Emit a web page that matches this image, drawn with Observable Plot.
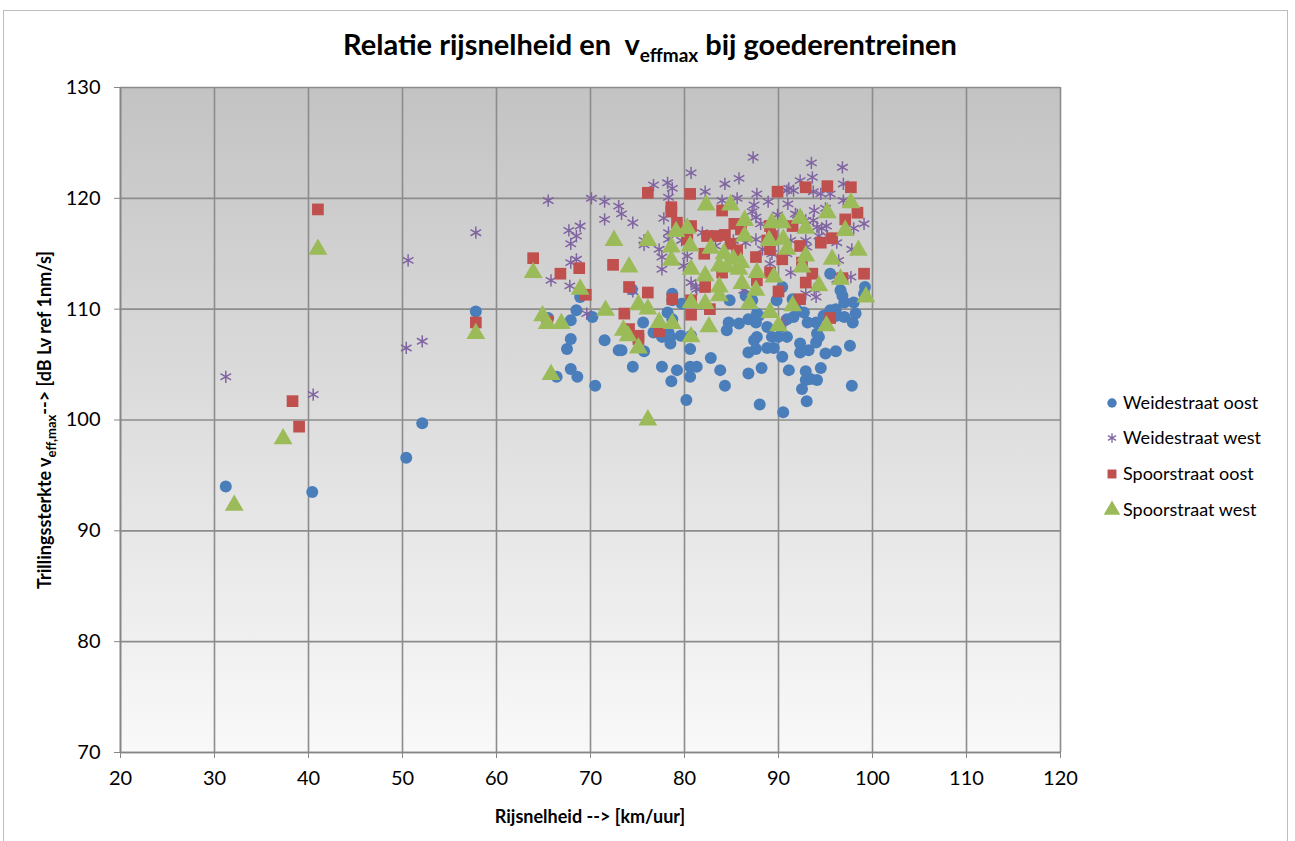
<!DOCTYPE html>
<html>
<head>
<meta charset="utf-8">
<script src="https://cdn.jsdelivr.net/npm/d3@7"></script>
<script src="https://cdn.jsdelivr.net/npm/@observablehq/plot@0.6"></script>
<style>
  html, body { margin: 0; padding: 0; background: #fff; }
  #chart { position: relative; width: 1295px; height: 841px; }
</style>
</head>
<body>
<div id="chart"></div>
<script>
const seriesNames = ["Weidestraat oost", "Weidestraat west", "Spoorstraat oost", "Spoorstraat west"];
const seriesColors = ["#4a7ebb", "#8064a2", "#c0504d", "#9bbb59"];
const xTicks = [20, 30, 40, 50, 60, 70, 80, 90, 100, 110, 120];
const yTicks = [70, 80, 90, 100, 110, 120, 130];

const weideOost = [
[31.2,94.0],[40.4,93.5],[50.4,96.6],[52.1,99.7],[57.8,109.8],[65.5,109.2],[66.4,103.9],[67.5,106.4],[67.9,107.3],[67.9,109.0],
[67.9,104.6],[68.6,103.9],[68.9,111.1],[68.5,109.9],[70.2,109.3],[70.5,103.1],[71.5,107.2],[73.0,106.3],[73.3,106.3],[74.5,104.8],
[74.4,111.8],[75.6,108.8],[75.7,106.2],[76.7,107.9],[77.6,107.5],[77.6,104.8],[78.2,109.7],[78.3,107.9],[78.7,111.4],[78.7,110.8],
[78.7,109.1],[78.5,107.5],[78.5,106.9],[79.2,104.5],[78.6,103.5],[79.6,107.6],[79.7,110.5],[80.2,101.8],[80.6,106.4],[80.6,104.8],
[80.6,103.9],[80.7,107.6],[81.3,104.8],[82.8,105.6],[83.8,104.5],[84.3,103.1],[84.5,108.1],[84.7,108.8],[84.8,110.8],[85.8,108.7],
[86.5,111.2],[86.8,109.1],[86.8,106.1],[86.8,104.2],[87.2,110.8],[87.4,107.2],[87.6,108.8],[87.6,106.4],[87.7,107.5],[87.7,109.6],
[87.9,109.4],[88.0,101.4],[88.2,104.7],[88.8,108.4],[88.8,106.5],[89.3,107.5],[89.5,106.5],[89.8,110.8],[90.0,107.5],[90.2,108.4],
[90.4,105.7],[90.4,112.0],[90.5,100.7],[90.9,107.5],[90.9,109.1],[91.1,104.5],[91.5,110.9],[91.6,109.3],[92.0,109.9],[92.3,106.9],
[92.3,106.1],[92.5,102.8],[92.7,109.7],[92.9,104.4],[92.9,103.6],[93.0,101.7],[93.1,108.8],[93.2,106.3],[93.4,103.7],[94.0,108.8],
[94.0,107.0],[94.1,103.6],[94.1,107.8],[94.3,107.5],[94.5,104.7],[94.8,109.4],[95.0,106.0],[95.5,109.9],[95.5,113.2],[96.1,106.2],
[96.1,110.0],[96.2,109.4],[96.6,111.7],[96.8,111.2],[97.0,109.3],[97.0,110.6],[97.6,106.7],[97.8,103.1],[97.9,108.8],[98.0,110.6],
[98.2,109.6],[99.1,111.4],[99.2,112.0]
];

const weideWest = [
[31.2,103.9],[40.5,102.3],[50.4,106.5],[52.1,107.1],[50.6,114.4],[57.8,116.9],[65.5,119.8],[65.8,112.6],[67.7,117.1],[67.8,112.1],
[67.9,115.9],[67.9,114.2],[68.5,116.6],[68.5,114.5],[68.9,117.5],[69.6,109.6],[70.1,120.0],[71.5,119.7],[71.5,118.1],[73.0,119.3],
[73.3,118.6],[74.5,117.8],[74.5,111.6],[75.7,116.2],[75.7,115.8],[76.7,121.2],[77.3,115.4],[77.6,114.7],[77.6,113.6],[77.8,118.2],
[78.2,121.4],[78.3,120.1],[78.3,116.9],[78.3,116.3],[78.7,120.9],[79.7,116.2],[79.9,113.9],[80.3,114.8],[80.7,122.3],[80.7,112.4],
[81.2,112.0],[81.3,111.8],[81.9,116.9],[82.2,120.6],[83.3,115.7],[84.0,119.8],[84.3,121.3],[85.2,116.2],[85.6,120.0],[85.8,121.8],
[86.3,111.7],[86.5,116.0],[87.2,118.8],[87.3,123.7],[87.4,119.4],[87.6,118.3],[87.6,116.3],[87.7,120.4],[88.1,117.7],[88.3,115.4],
[88.9,119.7],[89.1,114.1],[89.3,115.0],[89.9,118.5],[90.4,108.8],[90.9,120.7],[90.9,115.0],[91.0,119.5],[91.1,120.9],[91.3,116.2],
[91.3,113.3],[91.6,120.7],[91.8,118.6],[92.0,118.5],[92.3,121.6],[92.9,118.0],[92.9,116.2],[92.9,111.4],[93.0,115.6],[93.5,123.2],
[93.6,121.9],[93.7,118.0],[93.7,120.6],[93.8,118.9],[93.8,111.8],[94.0,111.1],[94.1,117.4],[94.3,116.6],[94.5,120.4],[94.6,117.3],
[95.0,119.1],[95.1,117.5],[95.2,116.6],[95.5,120.4],[96.2,116.0],[96.2,112.7],[96.4,114.4],[96.8,122.8],[96.9,119.8],[96.9,121.3],
[97.7,112.9],[97.8,115.4],[98.0,117.3],[99.1,117.7]
];

const spoorOost = [
[38.3,101.7],[39.0,99.4],[41.0,119.0],[57.8,108.8],[63.9,114.6],[65.4,108.9],[66.8,113.2],[68.8,113.7],[69.5,111.3],[72.4,114.0],
[73.6,109.6],[74.1,112.0],[74.1,108.2],[75.1,107.6],[75.1,107.3],[76.1,111.5],[76.1,120.5],[77.3,108.0],[78.6,119.2],[78.6,118.8],
[78.7,110.9],[79.2,117.8],[80.3,116.3],[80.6,120.4],[80.7,117.5],[80.7,110.8],[80.7,109.5],[82.1,115.0],[82.2,112.0],[82.4,116.6],
[82.7,110.0],[83.4,116.6],[84.0,118.9],[84.0,113.3],[84.3,116.7],[84.9,115.9],[85.3,117.7],[85.6,115.3],[86.0,117.2],[87.6,114.7],
[87.7,112.6],[88.8,116.2],[89.1,117.5],[89.1,115.4],[89.1,113.3],[89.3,116.6],[89.9,120.6],[90.0,111.6],[90.4,114.5],[91.5,117.5],
[92.3,115.7],[92.3,110.9],[92.5,114.2],[92.9,121.0],[92.9,112.4],[93.6,113.2],[94.5,116.0],[95.2,121.1],[95.5,109.2],[95.7,116.4],
[96.8,112.8],[97.1,118.1],[97.7,121.0],[98.4,118.7],[99.1,113.2]
];

const spoorWest = [
[32.1,92.3],[37.3,98.3],[41.0,115.4],[57.8,107.8],[63.9,113.3],[64.9,109.4],[65.4,108.7],[65.8,104.1],[66.9,108.7],[68.9,111.8],
[71.6,109.9],[72.5,116.2],[73.5,108.1],[74.0,107.6],[74.1,113.8],[75.1,110.4],[75.1,106.5],[76.1,116.2],[76.1,110.0],[76.1,100.0],
[77.3,108.8],[78.6,115.6],[78.6,114.4],[78.7,108.7],[79.1,117.0],[80.3,117.3],[80.6,115.7],[80.7,113.6],[80.7,110.6],[80.7,107.5],
[82.2,113.0],[82.2,110.5],[82.3,119.4],[82.6,108.4],[82.8,115.5],[83.7,113.9],[83.7,112.0],[83.7,111.2],[84.2,115.0],[84.5,113.8],
[84.9,119.4],[85.2,114.5],[85.8,113.6],[86.0,114.2],[86.1,112.3],[86.4,118.0],[86.4,116.6],[86.9,110.5],[87.6,111.7],[87.7,113.3],
[89.0,116.2],[89.1,109.7],[89.3,117.8],[89.5,112.9],[90.0,108.5],[90.4,117.8],[90.5,116.3],[90.9,115.4],[91.5,110.3],[92.3,118.2],
[92.5,113.8],[92.9,117.3],[92.9,114.8],[94.3,112.1],[95.1,108.5],[95.2,118.7],[95.7,114.5],[96.6,112.7],[97.1,117.1],[97.7,119.6],
[98.5,115.3],[99.3,111.1]
];

const FONT = "Lato, 'Open Sans', sans-serif";
const W = 1295, H = 841;
const mL = 120, mR = 235, mT = 87, mB = 89;

function background(index, scales, values, dims) {
  const g = d3.create("svg:g");
  const grad = g.append("defs").append("linearGradient")
    .attr("id", "plotbg").attr("x1", 0).attr("y1", 0).attr("x2", 0).attr("y2", 1);
  grad.append("stop").attr("offset", "0%").attr("stop-color", "#c3c3c3");
  grad.append("stop").attr("offset", "100%").attr("stop-color", "#f9f9f9");
  g.append("rect")
    .attr("x", dims.marginLeft).attr("y", dims.marginTop)
    .attr("width", dims.width - dims.marginLeft - dims.marginRight)
    .attr("height", dims.height - dims.marginTop - dims.marginBottom)
    .attr("fill", "url(#plotbg)");
  return g.node();
}

const gridColor = "#8c8c8c";

const plot = Plot.plot({
  width: W, height: H,
  marginLeft: mL, marginRight: mR, marginTop: mT, marginBottom: mB,
  style: { fontFamily: FONT, fontSize: "20px", background: "transparent", color: "#000" },
  x: { domain: [20, 120], label: null },
  y: { domain: [70, 130], label: null },
  marks: [
    background,
    Plot.gridX(xTicks, { stroke: gridColor, strokeOpacity: 1, strokeWidth: 1.6 }),
    Plot.gridY(yTicks, { stroke: gridColor, strokeOpacity: 1, strokeWidth: 1.6 }),
    Plot.ruleX([20], { stroke: "#868686", strokeWidth: 1.6 }),
    Plot.ruleY([70], { stroke: "#868686", strokeWidth: 1.6 }),
    Plot.axisX(xTicks, { tickSize: 6, tickPadding: 12, stroke: "#868686", fill: "#000", fontSize: 20, label: null }),
    Plot.axisY(yTicks, { tickSize: 6, tickPadding: 14, stroke: "#868686", fill: "#000", fontSize: 20, label: null }),
    Plot.dot(weideOost, { x: d => d[0], y: d => d[1], r: 6, fill: seriesColors[0], stroke: "none", symbol: "circle" }),
    Plot.dot(weideWest, { x: d => d[0], y: d => d[1], r: 5.8, fill: "none", stroke: seriesColors[1], strokeWidth: 1.5, symbol: "asterisk" }),
    Plot.dot(spoorOost, { x: d => d[0], y: d => d[1], r: 6.6, fill: seriesColors[2], stroke: "none", symbol: "square" }),
    Plot.dot(spoorWest, { x: d => d[0], y: d => d[1], r: 7, fill: seriesColors[3], stroke: "none", symbol: "triangle" })
  ]
});

const svg = d3.select(plot);

// Outer chart border
svg.append("rect").attr("x", 3.5).attr("y", 10.5).attr("width", 1284).attr("height", 840)
  .attr("fill", "none").attr("stroke", "#bdbdbd").attr("stroke-width", 1);

// Title
const title = svg.append("text").attr("x", 650).attr("y", 55).attr("text-anchor", "middle")
  .attr("font-family", FONT).attr("font-size", 29).attr("font-weight", "bold").attr("fill", "#000");
title.append("tspan").text("Relatie rijsnelheid en  v");
title.append("tspan").attr("font-size", 19).attr("dy", 7).text("effmax");
title.append("tspan").attr("dy", -7).text(" bij goederentreinen");

// X axis title
svg.append("text").attr("x", 590).attr("y", 823).attr("text-anchor", "middle")
  .attr("font-family", FONT).attr("font-size", 18).attr("font-weight", "bold").attr("fill", "#000")
  .text("Rijsnelheid --> [km/uur]");

// Y axis title
const yt = svg.append("text").attr("transform", "translate(51,420) rotate(-90)").attr("text-anchor", "middle")
  .attr("font-family", FONT).attr("font-size", 18).attr("font-weight", "bold").attr("fill", "#000");
yt.append("tspan").text("Trillingssterkte v");
yt.append("tspan").attr("font-size", 13).attr("dy", 5).text("eff,max");
yt.append("tspan").attr("dy", -5).text("--> [dB Lv ref 1nm/s]");

// Legend
const legY = [403, 438, 474, 510];
const symbols = [d3.symbolCircle, d3.symbolAsterisk, d3.symbolSquare, d3.symbolTriangle];
const symSizes = [70, 60, 80, 120];
seriesNames.forEach((name, i) => {
  const g = svg.append("g").attr("transform", `translate(1112,${legY[i]})`);
  const p = g.append("path").attr("d", d3.symbol(symbols[i], symSizes[i])());
  if (i === 1) p.attr("fill", "none").attr("stroke", seriesColors[i]).attr("stroke-width", 1.3);
  else p.attr("fill", seriesColors[i]);
  svg.append("text").attr("x", 1123).attr("y", legY[i] + 6).attr("text-anchor", "start")
    .attr("font-family", FONT).attr("font-size", 18).attr("fill", "#000").text(name);
});

document.getElementById("chart").appendChild(plot);
</script>
</body>
</html>
